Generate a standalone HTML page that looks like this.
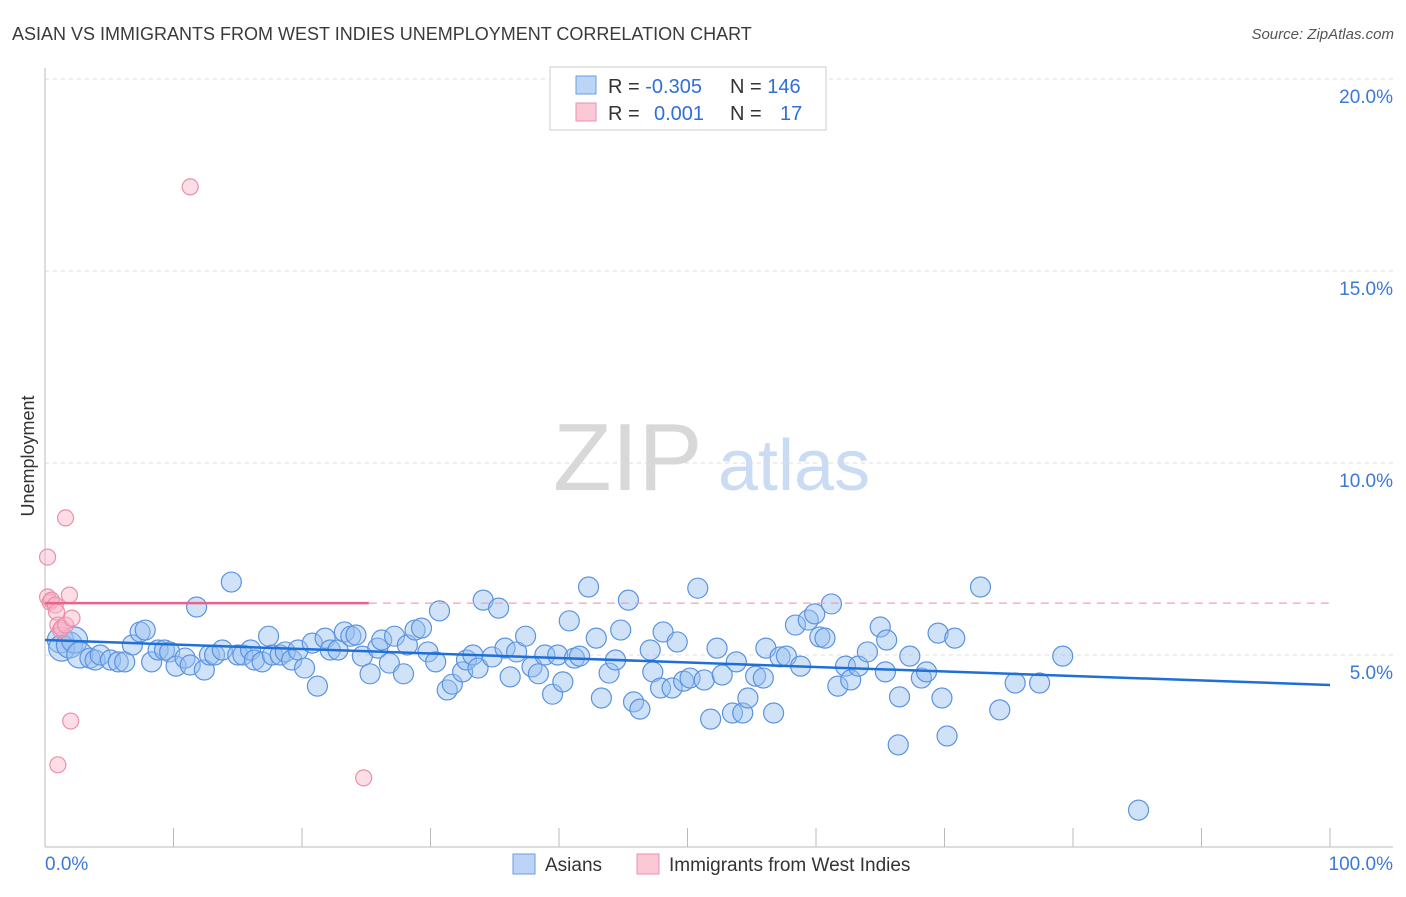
<!DOCTYPE html>
<html><head><meta charset="utf-8"><style>
body{margin:0;background:#fff;font-family:"Liberation Sans",sans-serif;}
svg text{font-family:"Liberation Sans",sans-serif;}
</style></head><body>
<svg id="chart" width="1406" height="892" xmlns="http://www.w3.org/2000/svg">
<text x="12" y="40" font-size="18" fill="#3a3a3a">ASIAN VS IMMIGRANTS FROM WEST INDIES UNEMPLOYMENT CORRELATION CHART</text>
<text x="1394" y="39" font-size="15" fill="#555" font-style="italic" text-anchor="end">Source: ZipAtlas.com</text>
<g>
<text x="553" y="490" font-size="96" fill="#d8d8d8" font-family="Liberation Serif,serif">ZIP</text>
<text x="718" y="490" font-size="72" fill="#c9dcf3">atlas</text>
</g>
<g id="grid"></g>
<g id="axes"></g>
<g id="marks"></g>
<text transform="translate(34,456) rotate(-90)" font-size="18" fill="#333" text-anchor="middle">Unemployment</text>
<g>
<rect x="550" y="67" width="276" height="63" fill="#fff" stroke="#ccc"/>
<rect x="576" y="76" width="20" height="18" fill="#bcd4f5" stroke="#6a9be0"/>
<rect x="576" y="103" width="20" height="18" fill="#fbc8d6" stroke="#eb8fab"/>
<text x="608" y="93" font-size="20" fill="#333">R = <tspan fill="#2f6fd8">-0.305</tspan><tspan x="730">N = </tspan><tspan fill="#2f6fd8">146</tspan></text>
<text x="608" y="120" font-size="20" fill="#333">R = <tspan x="654" fill="#2f6fd8">0.001</tspan><tspan x="730">N = </tspan><tspan x="780" fill="#2f6fd8">17</tspan></text>
</g>
<g>
<rect x="513" y="854" width="22" height="20" fill="#bcd4f5" stroke="#6a9be0"/>
<text x="545" y="871" font-size="19" fill="#333">Asians</text>
<rect x="637" y="854" width="22" height="20" fill="#fbc8d6" stroke="#eb8fab"/>
<text x="669" y="871" font-size="19" fill="#333">Immigrants from West Indies</text>
</g>
</svg>
<script>
const blueX=[1.2,1.3,1.9,2.3,2.7,3.5,3.9,4.3,5.1,5.7,6.2,6.8,7.4,7.8,8.3,8.8,9.3,9.7,10.2,10.9,11.3,11.8,12.4,12.8,13.2,13.8,14.5,15.0,15.4,16.0,16.3,16.9,17.4,17.7,18.3,18.7,19.2,19.7,20.2,20.8,21.2,21.8,22.2,22.8,23.3,23.8,24.2,24.7,25.3,25.9,26.2,26.8,27.2,27.9,28.2,28.8,29.3,29.8,30.4,30.7,31.3,31.7,32.5,32.8,33.3,33.7,34.1,34.8,35.3,35.8,36.2,36.7,37.4,37.9,38.4,38.9,39.5,39.9,40.3,40.8,41.2,41.6,42.3,42.9,43.3,43.9,44.4,44.8,45.4,45.8,46.3,47.1,47.3,47.9,48.1,48.8,49.2,49.7,50.2,50.8,51.3,51.8,52.3,52.7,53.5,53.8,54.3,54.7,55.3,55.9,56.1,56.7,57.2,57.7,58.4,58.8,59.4,59.9,60.3,60.7,61.2,61.7,62.3,62.7,63.3,64.0,65.0,65.5,65.4,66.4,66.5,67.3,68.2,68.6,69.5,69.8,70.2,70.8,72.8,74.3,75.5,77.4,79.2,85.1];
const blueY=[5.39,5.18,5.26,5.39,5.0,4.92,4.87,5.0,4.87,4.82,4.82,5.26,5.6,5.65,4.82,5.13,5.13,5.08,4.71,4.92,4.74,6.25,4.61,5.0,5.0,5.13,6.9,5.0,5.0,5.13,4.87,4.82,5.49,5.0,5.0,5.08,4.87,5.13,4.66,5.31,4.19,5.44,5.13,5.13,5.6,5.49,5.52,4.97,4.51,5.18,5.39,4.79,5.49,4.51,5.26,5.65,5.7,5.08,4.82,6.15,4.09,4.24,4.56,4.87,5.0,4.66,6.43,4.95,6.22,5.18,4.43,5.08,5.49,4.69,4.51,5.0,3.98,5.0,4.3,5.89,4.92,4.97,6.77,5.44,3.88,4.53,4.87,5.65,6.43,3.78,3.59,5.13,4.56,4.14,5.6,4.14,5.34,4.32,4.4,6.74,4.35,3.33,5.18,4.48,3.49,4.82,3.49,3.88,4.45,4.4,5.18,3.49,4.95,4.97,5.78,4.71,5.91,6.07,5.47,5.44,6.33,4.19,4.71,4.35,4.71,5.08,5.73,5.39,4.56,2.66,3.91,4.97,4.4,4.56,5.57,3.88,2.89,5.44,6.77,3.57,4.27,4.27,4.97,0.96];
const pinkX=[0.2,0.2,0.4,0.5,0.8,0.9,1.0,1.2,1.3,1.6,1.6,1.9,2.1,2.0,1.0,11.3,24.8];
const pinkY=[7.55,6.51,6.38,6.43,6.3,6.12,5.78,5.65,5.7,8.57,5.78,6.56,5.96,3.28,2.14,17.19,1.8];
const blueTrend=[5.39,4.22];
const pinkTrend=[6.35,6.35];
const yTicks=[5,10,15,20];
const xTickLabels=["0.0%","100.0%"];
const NS="http://www.w3.org/2000/svg";
const X0=45,X1=1330,Y0=847,PY=38.4;
const sx=v=>X0+(X1-X0)*v/100;
const sy=v=>Y0-PY*v;
function mk(t,a,p){const e=document.createElementNS(NS,t);for(const k in a)e.setAttribute(k,a[k]);p.appendChild(e);return e;}
const grid=document.getElementById('grid'),axes=document.getElementById('axes'),marks=document.getElementById('marks');
yTicks.forEach(v=>{
 const l=mk('line',{x1:X0,x2:1393,y1:sy(v),y2:sy(v),stroke:'#ddd','stroke-dasharray':'4,4'},grid);
 
 
 const t=mk('text',{x:1393,y:sy(v)+24,'font-size':19,fill:'#3b78d8','text-anchor':'end'},grid);
 t.textContent=v.toFixed(1)+'%';
 
 
});
let al=mk('line',{x1:X0,x2:X0,y1:68,y2:Y0,stroke:'#bbb'},axes);


let bl=mk('line',{x1:X0,x2:1393,y1:Y0,y2:Y0,stroke:'#bbb'},axes);


for(let i=0;i<=10;i++){
 const tk=mk('line',{x1:sx(i*10),x2:sx(i*10),y1:828,y2:Y0,stroke:'#bbb'},axes);
 
 
}
const t0=mk('text',{x:45,y:870,'font-size':19,fill:'#3b78d8'},axes);t0.textContent=xTickLabels[0];


const t1=mk('text',{x:1393,y:870,'font-size':19,fill:'#3b78d8','text-anchor':'end'},axes);t1.textContent=xTickLabels[1];


blueX.forEach((x,i)=>{
 const c=mk('circle',{cx:sx(x),cy:sy(blueY[i]),r:x<3?13:10,fill:'rgba(150,190,240,0.45)',stroke:'#5b93e0','stroke-width':1.2},marks);
 
 
});
pinkX.forEach((x,i)=>{
 const c=mk('circle',{cx:sx(x),cy:sy(pinkY[i]),r:8,fill:'rgba(250,180,200,0.45)',stroke:'#eb8fab','stroke-width':1.2},marks);
 
 
});
const bt=mk('line',{x1:sx(0),x2:sx(100),y1:sy(blueTrend[0]),y2:sy(blueTrend[1]),stroke:'#1f6fd8','stroke-width':2.5},marks);


const pt=mk('line',{x1:sx(0),x2:sx(25.2),y1:sy(pinkTrend[0]),y2:sy(pinkTrend[0]),stroke:'#e8648c','stroke-width':2.5},marks);


const pd=mk('line',{x1:sx(25.2),x2:sx(100),y1:sy(pinkTrend[0]),y2:sy(pinkTrend[1]),stroke:'#f0a0b8','stroke-width':1.2,'stroke-dasharray':'8,6'},marks);


</script>
</body></html>
